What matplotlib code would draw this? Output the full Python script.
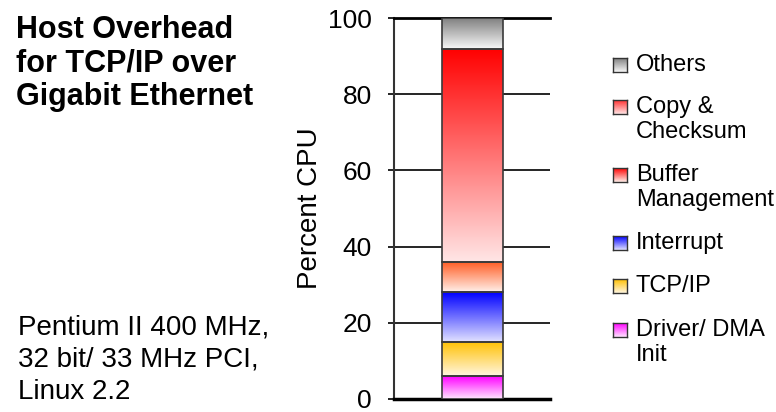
import numpy as np
import matplotlib
matplotlib.use("Agg")
import matplotlib.pyplot as plt
from matplotlib.colors import LinearSegmentedColormap

plt.rcParams['font.family'] = ['Liberation Sans', 'DejaVu Sans']

# stack order, bottom to top
categories = ["Driver/ DMA\nInit", "TCP/IP", "Interrupt", "Buffer\nManagement", "Copy &\nChecksum", "Others"]
values = [6, 9, 13, 8, 56, 8]
# top colour of each gradient, bottom colour
top_colors = ["#ff00ff", "#ffc000", "#0000ff", "#ff5a20", "#ff0000", "#808080"]
bottom_colors = ["#ffe6ff", "#fff6e0", "#e2e2ff", "#fff0ea", "#ffe6e6", "#f8f8f8"]
legend_colors = ["#ff00ff", "#ffc000", "#0000ff", "#ff0000", "#ff3030", "#808080"]
yticks = [0, 20, 40, 60, 80, 100]

fig = plt.figure(figsize=(7.76, 4.12), dpi=100)
ax = fig.add_axes([0.508, 0.032, 0.201, 0.924])

bottoms = np.concatenate([[0], np.cumsum(values)[:-1]])
bars = ax.bar(0, values, bottom=bottoms, width=0.39, color="none",
              edgecolor="#3a3a3a", linewidth=1.2, zorder=4)

grad = np.linspace(0, 1, 256).reshape(-1, 1)
for b, c0, c1 in zip(bars, bottom_colors, top_colors):
    cmap = LinearSegmentedColormap.from_list("g", [c0, c1])
    x0, y0 = b.get_x(), b.get_y()
    ax.imshow(grad, cmap=cmap, origin="lower", aspect="auto",
              extent=[x0, x0 + b.get_width(), y0, y0 + b.get_height()],
              zorder=3, interpolation="bilinear")

ax.set_xlim(-0.5, 0.5)
ax.set_ylim(0, 100)
ax.set_yticks(yticks)
ax.set_xticks([])
ax.tick_params(axis="y", labelsize=19, length=4, width=1.2, direction="out", pad=12)
ax.yaxis.grid(True, color="black", linewidth=1.2)
ax.set_axisbelow(True)
ax.spines["right"].set_visible(False)
ax.spines["top"].set_linewidth(2)
ax.spines["left"].set_linewidth(1.5)
ax.spines["left"].set_color("#333333")
ax.spines["bottom"].set_linewidth(2.5)
ax.set_ylabel("Percent CPU", fontsize=20, labelpad=4)

fig.text(16 / 776, 1 - 15 / 412, "Host Overhead\nfor TCP/IP over\nGigabit Ethernet",
         fontsize=22, fontweight="bold", va="top", ha="left", linespacing=1.16)
fig.text(18 / 776, 1 - 314 / 412, "Pentium II 400 MHz,\n32 bit/ 33 MHz PCI,\nLinux 2.2",
         fontsize=20, va="top", ha="left", linespacing=1.33)

# legend, drawn by hand so the markers keep their gradients
legend_y = [330, 286, 243, 175, 107, 65]
for name, y, c_top, c_bot in zip(categories, legend_y, legend_colors, bottom_colors):
    w, h = 14, 14
    lax = fig.add_axes([(619.5 - w / 2) / 776, 1 - (y + h / 2) / 412, w / 776, h / 412])
    cmap = LinearSegmentedColormap.from_list("g", [c_bot, c_top])
    lax.imshow(grad, cmap=cmap, origin="lower", aspect="auto")
    lax.set_xticks([])
    lax.set_yticks([])
    for s in lax.spines.values():
        s.set_color("#333333")
        s.set_linewidth(1)
    fig.text(636 / 776, 1 - (y - 11) / 412, name, fontsize=17, va="top", ha="left",
             linespacing=1.2)

fig.savefig("out.png", dpi=100)
